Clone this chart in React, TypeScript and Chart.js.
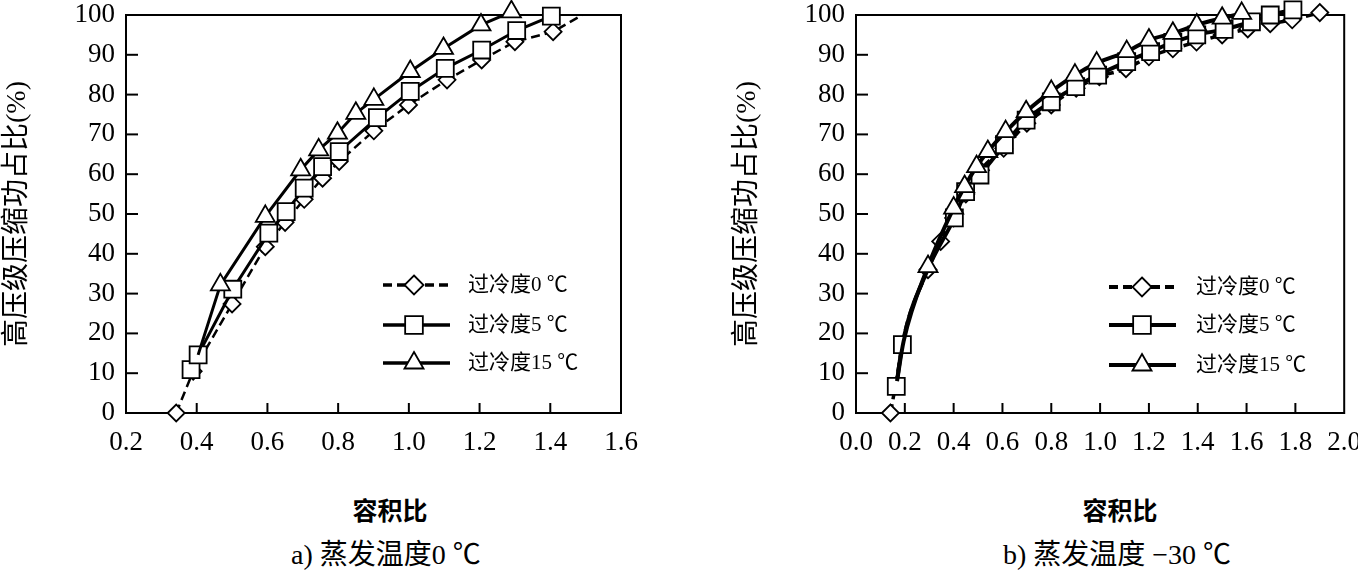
import React, { useEffect, useRef } from 'react';
import { Chart, registerables } from 'chart.js';
Chart.register(...registerables);

// ---------- data ----------
const seriesLabels = ['过冷度0 ℃', '过冷度5 ℃', '过冷度15 ℃'];
const yTitle = '高压级压缩功占比(%)';
const xTitle = '容积比';
const captionA = 'a) 蒸发温度0 ℃';
const captionB = 'b) 蒸发温度 −30 ℃';

// panel a) evaporating temperature 0 °C
const a0x = [0.342, 0.39, 0.5, 0.594, 0.65, 0.704, 0.756, 0.803, 0.901, 0.999, 1.108, 1.206, 1.3, 1.408, 1.49];
const a0y = [0, 10.5, 27.4, 41.8, 47.9, 53.7, 59.0, 63.2, 70.9, 77.4, 83.7, 88.7, 93.3, 95.8, 100];
const a0shown = [1, 1, 1, 1, 1, 1, 1, 1, 1, 1, 1, 1, 1, 1, 0];
const a5x = [0.384, 0.404, 0.502, 0.604, 0.653, 0.704, 0.756, 0.803, 0.911, 1.004, 1.103, 1.206, 1.305, 1.403];
const a5y = [10.9, 14.6, 31.1, 45.2, 50.6, 56.5, 61.9, 65.7, 74.2, 80.8, 86.6, 91.2, 96.1, 99.7];
const a5shown = [1, 1, 1, 1, 1, 1, 1, 1, 1, 1, 1, 1, 1, 1];
const a15x = [0.404, 0.467, 0.594, 0.694, 0.745, 0.798, 0.85, 0.901, 1.004, 1.098, 1.204, 1.29];
const a15y = [14.6, 32.2, 49.4, 61.1, 66.1, 70.3, 75.3, 78.8, 85.8, 91.6, 97.5, 100.8];
const a15shown = [0, 1, 1, 1, 1, 1, 1, 1, 1, 1, 1, 1];

// panel b) evaporating temperature -30 °C
const b0x = [0.141, 0.168, 0.195, 0.295, 0.347, 0.4, 0.45, 0.51, 0.605, 0.7, 0.8, 0.902, 0.997, 1.106, 1.2, 1.298, 1.395, 1.5, 1.605, 1.697, 1.787, 1.9];
const b0y = [0, 9, 19, 36, 43.1, 49, 55, 61, 66.5, 72.8, 77.4, 81.6, 84.5, 86.5, 89.5, 91.5, 93.2, 95, 96.5, 97.8, 98.8, 100.6];
const b0shown = [1, 0, 0, 1, 1, 1, 1, 1, 1, 1, 1, 1, 1, 1, 1, 1, 1, 1, 1, 1, 1, 1];
const b5x = [0.165, 0.19, 0.29, 0.403, 0.449, 0.508, 0.608, 0.697, 0.8, 0.9, 0.99, 1.109, 1.207, 1.298, 1.396, 1.508, 1.62, 1.697, 1.79];
const b5y = [6.7, 17.2, 35.5, 49, 55.6, 59.8, 67.4, 73.6, 78.2, 82, 84.9, 88.3, 90.8, 93.1, 95, 96.4, 98.3, 100, 101.3];
const b5shown = [1, 1, 0, 1, 1, 1, 1, 1, 1, 1, 1, 1, 1, 1, 1, 1, 1, 1, 1];
const b15x = [0.168, 0.195, 0.295, 0.4, 0.445, 0.494, 0.54, 0.613, 0.697, 0.8, 0.897, 0.986, 1.109, 1.2, 1.298, 1.396, 1.5, 1.58];
const b15y = [8, 18, 36.8, 51.5, 56.9, 61.9, 65.7, 70.7, 75.7, 80.8, 84.9, 87.9, 90.8, 93.7, 95.4, 97.5, 99.2, 100.4];
const b15shown = [0, 0, 1, 1, 1, 1, 1, 1, 1, 1, 1, 1, 1, 1, 1, 1, 1, 1];

const aXMin = 0.2, aXMax = 1.6;
const bXMin = 0.0, bXMax = 2.0;
const xStep = 0.2;
const yMin = 0, yMax = 100, yStep = 10;

// ---------- styles ----------
const SERIF = '"Liberation Serif", "Times New Roman", "Noto Sans CJK SC", serif';
const styles = [
  { pointStyle: 'rectRot', radius: 8.5, dash: [9, 5], legendRadius: 9.5 },
  { pointStyle: 'rect', radius: 12, dash: [], legendRadius: 12.5 },
  { pointStyle: 'triangle', radius: 11, dash: [], legendRadius: 11 },
];

const CW = 679;
const CH = 470;

function drawMarker(ctx: CanvasRenderingContext2D, style: string, x: number, y: number, r: number) {
  ctx.beginPath();
  if (style === 'rectRot') {
    ctx.moveTo(x, y - r); ctx.lineTo(x + r, y); ctx.lineTo(x, y + r); ctx.lineTo(x - r, y); ctx.closePath();
  } else if (style === 'rect') {
    const s = r * Math.SQRT1_2;
    ctx.rect(x - s, y - s, 2 * s, 2 * s);
  } else {
    ctx.moveTo(x, y - r);
    ctx.lineTo(x + r * Math.sin(Math.PI * 2 / 3), y - r * Math.cos(Math.PI * 2 / 3));
    ctx.lineTo(x + r * Math.sin(Math.PI * 4 / 3), y - r * Math.cos(Math.PI * 4 / 3));
    ctx.closePath();
  }
  ctx.fillStyle = '#fff';
  ctx.fill();
  ctx.lineWidth = 1.8;
  ctx.strokeStyle = '#000';
  ctx.stroke();
}

const framePlugin = {
  id: 'frameTicks',
  beforeDatasetsDraw(chart: any) {
    const { ctx, chartArea: a, scales } = chart;
    ctx.save();
    ctx.strokeStyle = '#000';
    ctx.lineWidth = 2;
    ctx.strokeRect(a.left, a.top, a.right - a.left, a.bottom - a.top);
    const xs = scales.x;
    xs.ticks.forEach((t: any) => {
      if (Math.abs(t.value - xs.min) < 1e-6 || Math.abs(t.value - xs.max) < 1e-6) return;
      const px = xs.getPixelForValue(t.value);
      ctx.beginPath(); ctx.moveTo(px, a.bottom); ctx.lineTo(px, a.bottom - 10); ctx.stroke();
    });
    const ys = scales.y;
    ys.ticks.forEach((t: any) => {
      if (t.value === ys.min || t.value === ys.max) return;
      const py = ys.getPixelForValue(t.value);
      ctx.beginPath(); ctx.moveTo(a.left, py); ctx.lineTo(a.left + 12, py); ctx.stroke();
    });
    ctx.restore();
  },
  afterDraw(chart: any, _args: any, opts: any) {
    const { ctx } = chart;
    const L = opts.legend;
    if (!L) return;
    ctx.save();
    chart.data.datasets.forEach((ds: any, i: number) => {
      const y = L.rows[i];
      const st = styles[i];
      ctx.strokeStyle = '#000';
      ctx.lineWidth = L.lineWidth;
      ctx.setLineDash(st.dash);
      ctx.beginPath(); ctx.moveTo(L.x1, y); ctx.lineTo(L.x2, y); ctx.stroke();
      ctx.setLineDash([]);
      drawMarker(ctx, st.pointStyle, L.mx, y, st.legendRadius);
      ctx.fillStyle = '#000';
      ctx.font = '21px ' + SERIF;
      ctx.textAlign = 'left';
      ctx.textBaseline = 'middle';
      ctx.fillText(ds.label, L.tx, y);
    });
    ctx.restore();
  },
};

function makeDatasets(xsList: number[][], ysList: number[][], shownList: number[][], lineWidth: number, curved: boolean) {
  return xsList.map((xs, i) => ({
    label: seriesLabels[i],
    data: xs.map((x, j) => ({ x, y: ysList[i][j] })),
    borderColor: '#000',
    borderWidth: i === 0 ? lineWidth - 0.5 : lineWidth,
    borderDash: styles[i].dash,
    pointStyle: styles[i].pointStyle,
    pointRadius: shownList[i].map((s) => (s ? styles[i].radius : 0)),
    pointBackgroundColor: '#fff',
    pointBorderColor: '#000',
    pointBorderWidth: 1.8,
    tension: 0,
    cubicInterpolationMode: curved ? 'monotone' : 'default',
    clip: false,
    order: 3 - i,
    fill: false,
  }));
}

function makeConfig(kind: 'a' | 'b') {
  const isA = kind === 'a';
  const datasets = isA
    ? makeDatasets([a0x, a5x, a15x], [a0y, a5y, a15y], [a0shown, a5shown, a15shown], 3, false)
    : makeDatasets([b0x, b5x, b15x], [b0y, b5y, b15y], [b0shown, b5shown, b15shown], 4, true);
  const legend = isA
    ? { x1: 383, x2: 450, mx: 414, tx: 468, rows: [285, 325, 363], lineWidth: 3.5 }
    : { x1: 430, x2: 497, mx: 463, tx: 517, rows: [287, 325, 365], lineWidth: 4 };
  return {
    type: 'line',
    data: { datasets },
    plugins: [framePlugin],
    options: {
      animation: false,
      responsive: false,
      devicePixelRatio: 1,
      layout: { padding: isA ? { left: 0, right: 58, top: 15, bottom: 0 } : { left: 51, right: 11, top: 15, bottom: 0 } },
      plugins: {
        legend: { display: false },
        tooltip: { enabled: false },
        title: { display: false },
        frameTicks: { legend },
      },
      scales: {
        x: {
          type: 'linear',
          min: isA ? aXMin : bXMin,
          max: isA ? aXMax : bXMax,
          border: { display: false },
          grid: { display: false, drawTicks: false },
          ticks: {
            stepSize: xStep,
            autoSkip: false,
            maxRotation: 0,
            padding: 14,
            color: '#000',
            font: { family: SERIF, size: 27 },
            callback: (v: any) => Number(v).toFixed(1),
          },
          afterFit: (s: any) => { s.height = CH - 413; s.paddingLeft = 0; s.paddingRight = 0; },
        },
        y: {
          type: 'linear',
          min: yMin,
          max: yMax,
          border: { display: false },
          grid: { display: false, drawTicks: false },
          ticks: {
            stepSize: yStep,
            padding: 11,
            color: '#000',
            font: { family: SERIF, size: 27 },
          },
          title: {
            display: true,
            text: yTitle,
            color: '#000',
            font: { family: SERIF, size: 28 },
            padding: { top: 1, bottom: 0 },
          },
          afterFit: (s: any) => { s.width = 126; s.paddingTop = 0; s.paddingBottom = 0; },
        },
      },
    },
  } as any;
}

export default function App() {
  const refA = useRef<HTMLCanvasElement>(null);
  const refB = useRef<HTMLCanvasElement>(null);

  useEffect(() => {
    const ca = new Chart(refA.current as HTMLCanvasElement, makeConfig('a'));
    const cb = new Chart(refB.current as HTMLCanvasElement, makeConfig('b'));
    return () => { ca.destroy(); cb.destroy(); };
  }, []);

  const titleStyle: React.CSSProperties = {
    position: 'absolute', width: 300, textAlign: 'center', fontFamily: '"Noto Sans CJK SC", sans-serif',
    fontWeight: 700, fontSize: 25, lineHeight: '30px', color: '#000', whiteSpace: 'nowrap',
  };
  const capStyle: React.CSSProperties = {
    position: 'absolute', width: 400, textAlign: 'center', fontFamily: SERIF,
    fontSize: 28, lineHeight: '32px', color: '#000', whiteSpace: 'nowrap',
  };

  return (
    <div style={{ position: 'fixed', left: 0, top: 0, width: 1358, height: 579, background: '#fff', overflow: 'hidden' }}>
      <canvas ref={refA} width={CW} height={CH} style={{ position: 'absolute', left: 0, top: 0 }} />
      <canvas ref={refB} width={CW} height={CH} style={{ position: 'absolute', left: 679, top: 0 }} />
      <div style={{ ...titleStyle, left: 390 - 150, top: 509 - 15 }}>{xTitle}</div>
      <div style={{ ...titleStyle, left: 1120 - 150, top: 509 - 15 }}>{xTitle}</div>
      <div style={{ ...capStyle, left: 386 - 200, top: 555 - 16 }}>{captionA}</div>
      <div style={{ ...capStyle, left: 1117 - 200, top: 555 - 16 }}>{captionB}</div>
    </div>
  );
}
